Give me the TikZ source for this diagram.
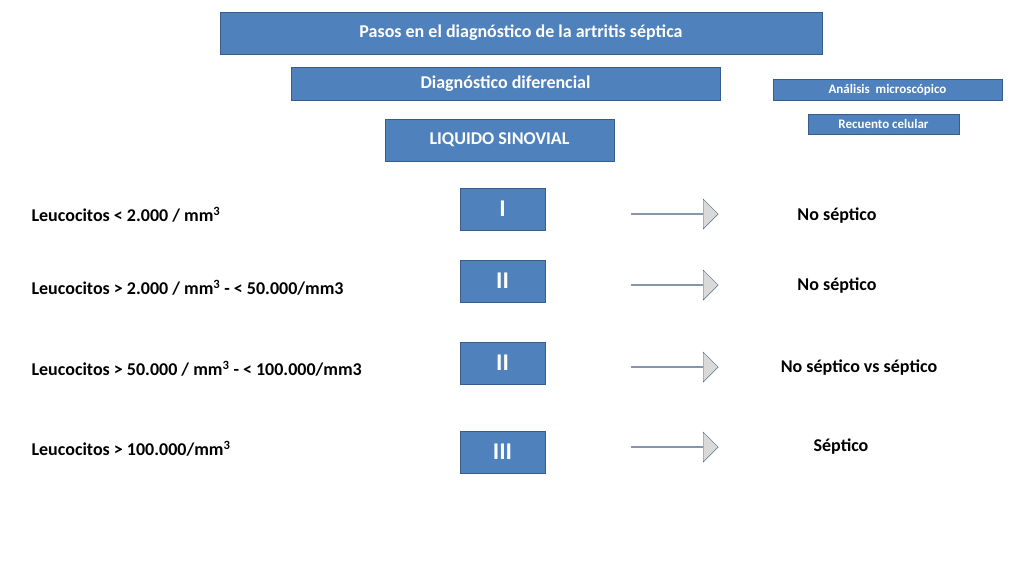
\documentclass[tikz,border=0pt]{standalone}
\usepackage{fontspec}
\setmainfont{Carlito}
\usetikzlibrary{shapes.arrows}

\definecolor{boxblue}{HTML}{4F81BD}
\definecolor{boxline}{HTML}{385D8A}
\definecolor{arrowgray}{HTML}{D9D9D9}

\tikzset{
  bluebox/.style={draw=boxline,fill=boxblue,text=white,inner sep=0pt,
    font=\bfseries\fontsize{18}{20}\selectfont},
  smallbox/.style={bluebox,font=\bfseries\fontsize{13}{15}\selectfont},
  levelbox/.style={bluebox,minimum width=85pt,minimum height=42pt,
    font=\bfseries\fontsize{24}{26}\selectfont},
  leftlab/.style={anchor=west,font=\bfseries\fontsize{18}{20}\selectfont},
  rightlab/.style={font=\bfseries\fontsize{18}{20}\selectfont},
  grayarrow/.style={single arrow,draw=boxline!70!gray,fill=arrowgray,
    minimum width=30pt,minimum height=87pt,single arrow head extend=7pt,
    inner sep=0pt}
}

\begin{document}
\begin{tikzpicture}[x=1pt,y=-1pt]
  \useasboundingbox (0,0) rectangle (1024,576);

  \node [bluebox,minimum width=602pt,minimum height=42pt] (title) at (521,33) {Pasos en el diagnóstico de la artritis séptica};
  \node [bluebox,minimum width=429pt,minimum height=33pt] (difer) at (505.5,83.5) {Diagnóstico diferencial};
  \node [smallbox,minimum width=229pt,minimum height=21pt] (micro) at (887.5,89.5) {Análisis\ \ microscópico};
  \node [smallbox,minimum width=151pt,minimum height=20pt] (recuento) at (883.5,124) {Recuento celular};
  \node [bluebox,minimum width=229pt,minimum height=42pt] (liquido) at (499.5,140) {LIQUIDO SINOVIAL};

  % niveles
  \node [levelbox] (lvA) at (502.5,209) {I};
  \node [levelbox] (lvB) at (502.5,281) {II};
  \node [levelbox] (lvC) at (502.5,363) {II};
  \node [levelbox] (lvD) at (502.5,452) {III};

  \node [leftlab] (leuA) at (28,215) {Leucocitos < 2.000 / mm\textsuperscript{3}};
  \node [leftlab] (leuB) at (28,288) {Leucocitos > 2.000 / mm\textsuperscript{3} - < 50.000/mm3};
  \node [leftlab] (leuC) at (28,369) {Leucocitos > 50.000 / mm\textsuperscript{3} - < 100.000/mm3};
  \node [leftlab] (leuD) at (28,449) {Leucocitos > 100.000/mm\textsuperscript{3}};

  \foreach \n/\y in {A/214,B/285,C/367,D/447}
    \node [grayarrow] (arr\n) at (674.5,\y) {};

  \node [rightlab] (resA) at (837,216) {No séptico};
  \node [rightlab] (resB) at (837,286) {No séptico};
  \node [rightlab] (resC) at (859,368) {No séptico vs séptico};
  \node [rightlab] (resD) at (841,447) {Séptico};
\end{tikzpicture}
\end{document}
